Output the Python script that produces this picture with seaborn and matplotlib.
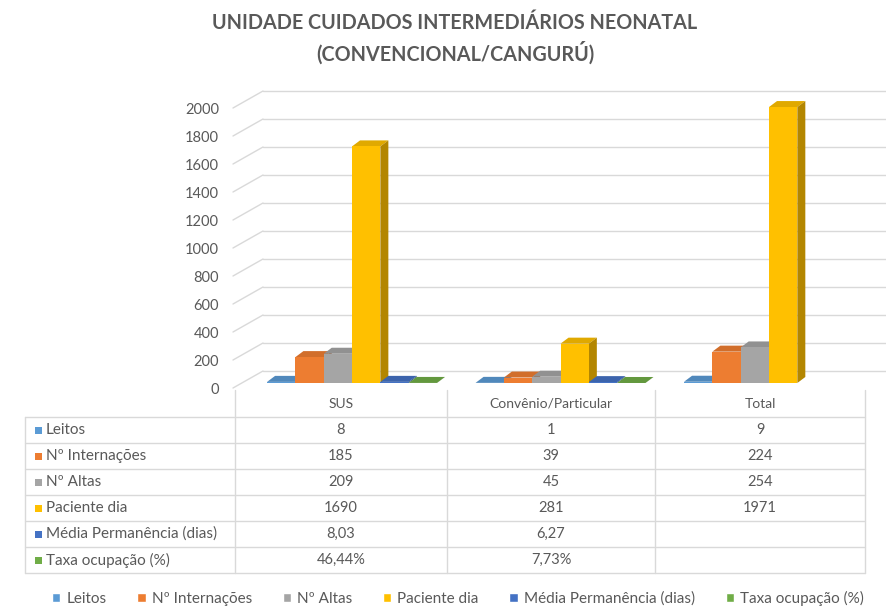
import numpy as np
import pandas as pd
import matplotlib
matplotlib.use("Agg")
import matplotlib.pyplot as plt
import matplotlib.transforms as mtrans
from matplotlib.patches import Polygon, Patch, Rectangle
from matplotlib.colors import to_rgb
import seaborn as sns

# ------------------------
# dados
categorias = ["SUS", "Convênio/Particular", "Total"]
series = ["Leitos", "Nº Internações", "Nº Altas", "Paciente dia",
          "Média Permanência (dias)", "Taxa ocupação (%)"]
cores = ["#5B9BD5", "#ED7D31", "#A5A5A5", "#FFC000", "#4472C4", "#70AD47"]

leitos = [8, 1, 9]
internacoes = [185, 39, 224]
altas = [209, 45, 254]
paciente_dia = [1690, 281, 1971]
media_permanencia = [8.03, 6.27, np.nan]
taxa_ocupacao = [0.4644, 0.0773, np.nan]   # em fração, como no Excel

valores = [leitos, internacoes, altas, paciente_dia, media_permanencia, taxa_ocupacao]
y_ticks = list(range(0, 2001, 200))


def fmt(serie, v):
    if np.isnan(v):
        return ""
    if serie.startswith("Média"):
        return f"{v:.2f}".replace(".", ",")
    if serie.startswith("Taxa"):
        return f"{v * 100:.2f}%".replace(".", ",")
    return str(int(v))


linhas = []
for s, vals in zip(series, valores):
    for c, v in zip(categorias, vals):
        linhas.append({"categoria": c, "serie": s, "valor": v})
df = pd.DataFrame(linhas)

# ------------------------
# estilo
sns.set_theme(style="white")
plt.rcParams["font.family"] = ["Lato", "DejaVu Sans"]
cinza = "#595959"
grade = "#D9D9D9"

W, H = 887, 609
fig = plt.figure(figsize=(W / 100, H / 100), dpi=100)

# eixo do gráfico (em pixels: 233..887 x 103..383)
ax_l, ax_r, ax_t, ax_b = 233, 887, 103, 383
ax = fig.add_axes([ax_l / W, (H - ax_b) / H, (ax_r - ax_l) / W, (ax_b - ax_t) / H])

sns.barplot(data=df.dropna(), x="categoria", y="valor", hue="serie",
            order=categorias, hue_order=series, palette=cores,
            width=0.815, saturation=1, errorbar=None, legend=False,
            linewidth=0, ax=ax)

xmin, xmax = -0.571, 2.566
ax.set_xlim(xmin, xmax)
ax.set_ylim(0, 2000)
sx = (ax_r - ax_l) / (xmax - xmin)   # px por unidade x
sy = (ax_b - ax_t) / 2000            # px por unidade y

# paredes / grade em "3D"
for v in y_ticks:
    yf = v - 5 / sy
    yb = v + 12 / sy
    xb = xmin + 30 / sx
    ax.plot([xmin, xb], [yf, yb], color=grade, lw=1, clip_on=False, zorder=0)
    ax.plot([xb, xmax], [yb, yb], color=grade, lw=1, clip_on=False, zorder=0)

# profundidade das barras
dx, dy = 8 / sx, 6 / sy
barras = sorted([p for p in ax.patches], key=lambda p: p.get_x())
for i, p in enumerate(barras):
    x, w, h = p.get_x(), p.get_width(), p.get_height()
    if np.isnan(h):
        continue
    base = np.array(to_rgb(p.get_facecolor()))
    z = 2 + i * 0.01
    p.set_zorder(z)
    topo = Polygon([(x, h), (x + w, h), (x + w + dx, h + dy), (x + dx, h + dy)],
                   closed=True, facecolor=base * 0.88, edgecolor="none",
                   zorder=z - 0.005, clip_on=False)
    lado = Polygon([(x + w, 0), (x + w + dx, dy), (x + w + dx, h + dy), (x + w, h)],
                   closed=True, facecolor=base * 0.7, edgecolor="none",
                   zorder=z - 0.005, clip_on=False)
    ax.add_patch(topo)
    ax.add_patch(lado)

ax.set_yticks(y_ticks)
ax.set_yticklabels([str(v) for v in y_ticks])
ax.tick_params(axis="y", length=0, pad=10, labelsize=10.5, labelcolor=cinza)
ax.tick_params(axis="x", bottom=False, labelbottom=False)
ax.set_xlabel("")
ax.set_ylabel("")
sns.despine(ax=ax, left=True, bottom=True)
desloc = mtrans.ScaledTranslation(0, -5 / 100, fig.dpi_scale_trans)
for t in ax.get_yticklabels():
    t.set_transform(t.get_transform() + desloc)

# ------------------------
# tabela de dados (coordenadas em pixels)
tab = fig.add_axes([0, 0, 1, 1])
tab.set_xlim(0, W)
tab.set_ylim(H, 0)
tab.axis("off")

col_x = [235, 447, 655, 865]
tab_esq, tab_topo, alt_linha = 25, 417, 26
n = len(series)
for k in range(n + 1):
    yy = tab_topo + k * alt_linha
    tab.plot([tab_esq, col_x[-1]], [yy, yy], color=grade, lw=1)
tab.plot([tab_esq, tab_esq], [tab_topo, tab_topo + n * alt_linha], color=grade, lw=1)
for xx in col_x:
    tab.plot([xx, xx], [390, tab_topo + n * alt_linha], color=grade, lw=1)

for j, c in enumerate(categorias):
    xc = (col_x[j] + col_x[j + 1]) / 2
    tab.text(xc, 404, c, ha="center", va="center", fontsize=10, color=cinza)

for k, (s, vals, cor) in enumerate(zip(series, valores, cores)):
    yc = tab_topo + k * alt_linha + alt_linha / 2
    tab.add_patch(Rectangle((35, yc - 3.5), 7, 7, facecolor=cor, edgecolor="none"))
    tab.text(46, yc, s, ha="left", va="center", fontsize=11, color=cinza)
    for j, v in enumerate(vals):
        xc = (col_x[j] + col_x[j + 1]) / 2
        tab.text(xc, yc, fmt(s, v), ha="center", va="center", fontsize=10.5, color=cinza)

# legenda
handles = [Patch(facecolor=c, label=s) for s, c in zip(series, cores)]
fig.legend(handles=handles, ncol=6, loc="center",
           bbox_to_anchor=(458 / W, 1 - 598 / H), frameon=False, fontsize=11,
           handlelength=0.55, handleheight=0.55, handletextpad=0.4,
           columnspacing=2.0, labelcolor=cinza)

# título
fig.text(455 / W, 1 - 39 / H,
         "UNIDADE CUIDADOS INTERMEDIÁRIOS NEONATAL\n(CONVENCIONAL/CANGURÚ)",
         ha="center", va="center", fontsize=14.2, fontweight="bold",
         color=cinza, linespacing=1.4)

fig.savefig("out.png", dpi=100)
